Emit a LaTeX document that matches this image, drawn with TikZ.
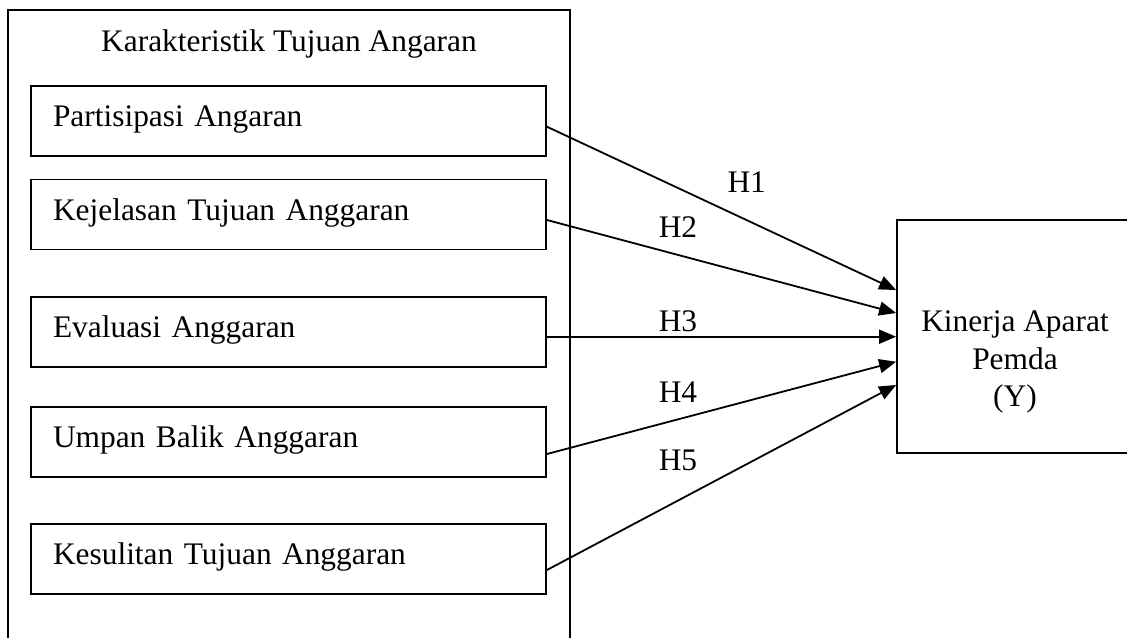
\documentclass[tikz,border=0pt]{standalone}
\usepackage{fontspec}
\setmainfont{Liberation Serif}
\usetikzlibrary{arrows.meta}
\begin{document}
\begin{tikzpicture}[x=0.5pt,y=-0.5pt,
  txt/.style={font=\fontsize{15.7}{18.75}\selectfont},
  frame/.style={draw, line width=0.9pt, rectangle, inner sep=0pt},
  var/.style={frame, txt, minimum width=257.5pt, minimum height=35pt,
    inner xsep=11pt, inner ysep=0pt, text width=235.5pt, align=left,
    text height=10.8pt, text depth=5pt},
  lbl/.style={txt, inner sep=0pt},
  arr/.style={draw, line width=0.9pt, -{Triangle[length=8.5pt,width=7pt]}}
]
\useasboundingbox (0,0) rectangle (1127,637);
\clip (0,0) rectangle (1127,637);
\fill[white] (0,0) rectangle (1127,637);

\node[frame, minimum width=281pt, minimum height=325pt] (outer) at (289,335) {};
\node[lbl, anchor=base] (title) at (289,51.7) {Karakteristik Tujuan Angaran};

\node[var] (b1) at (288.5,121) {Partisipasi Angaran};
\node[var] (b2) at (288.5,214.5) {Kejelasan Tujuan Anggaran};
\node[var] (b3) at (288.5,332) {Evaluasi Anggaran};
\node[var] (b4) at (288.5,442) {Umpan Balik Anggaran};
\node[var] (b5) at (288.5,559) {Kesulitan Tujuan Anggaran};

\node[frame, minimum width=118pt, minimum height=116.5pt] (kin) at (1015,336.5) {};
\node[lbl, align=center] (kintext) at (1015,362) {Kinerja Aparat\\Pemda\\(Y)};

\draw[arr] ([yshift=-2.85pt]b1.east) -- ([yshift=23.25pt]kin.west);
\draw[arr] ([yshift=-2.75pt]b2.east) -- ([yshift=11.75pt]kin.west);
\draw[arr] ([yshift=-2.35pt]b3.east) coordinate (s3) -- (s3 -| kin.west);
\draw[arr] ([yshift=-6pt]b4.east) -- ([yshift=-12.6pt]kin.west);
\draw[arr] ([yshift=-5.5pt]b5.east) -- ([yshift=-24.25pt]kin.west);

\node[lbl] (h1) at (746.7,181.7) {H1};
\node[lbl] (h2) at (678,226.7) {H2};
\node[lbl] (h3) at (678,321.7) {H3};
\node[lbl] (h4) at (678,391.7) {H4};
\node[lbl] (h5) at (678,460) {H5};
\end{tikzpicture}
\end{document}
